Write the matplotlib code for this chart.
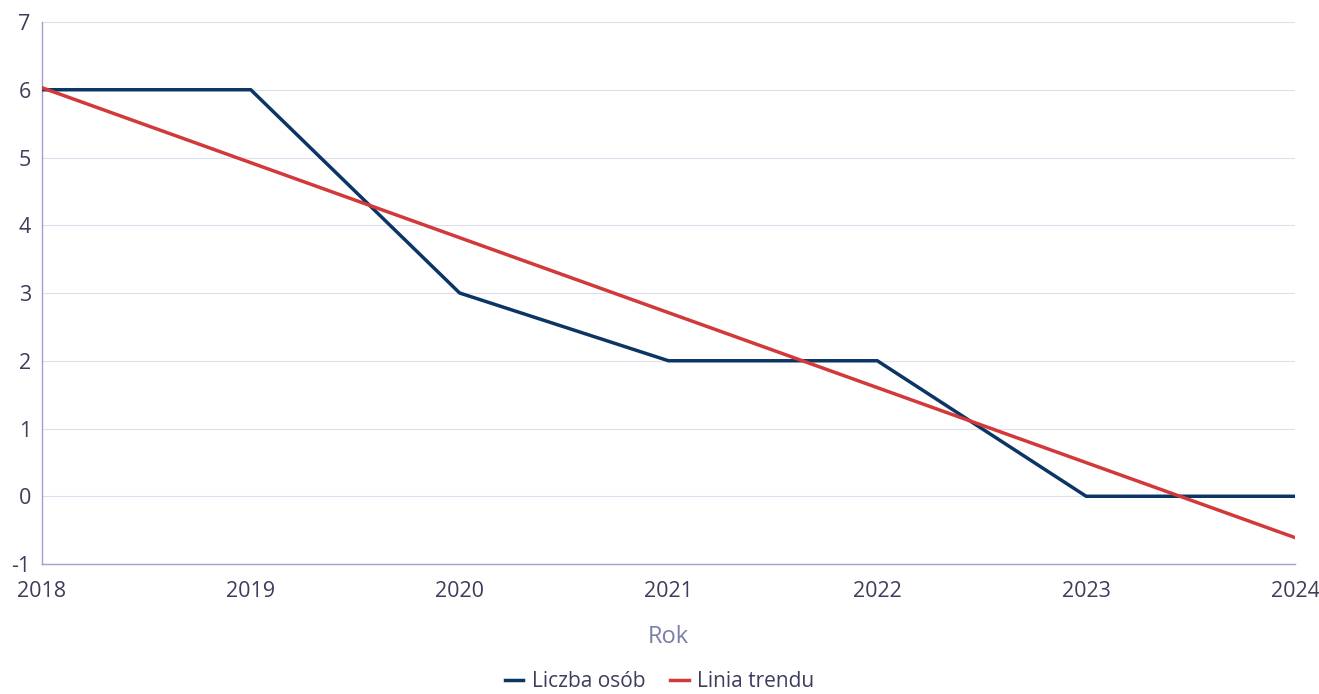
import matplotlib
matplotlib.use("Agg")
import matplotlib.pyplot as plt
from matplotlib.lines import Line2D

plt.rcParams['font.family'] = ['Open Sans', 'DejaVu Sans']

years = [2018, 2019, 2020, 2021, 2022, 2023, 2024]
liczba_osob = [6, 6, 3, 2, 2, 0, 0]
trend_x = [2018, 2024]
trend_y = [6.03, -0.61]
yticks = [-1, 0, 1, 2, 3, 4, 5, 6, 7]

blue = '#0b3565'
red = '#d1393a'
text_c = '#3d3d5c'
grid_c = '#dedeee'
spine_c = '#a0a0cc'

fig = plt.figure(figsize=(13.19, 6.94), dpi=100)
ax = fig.add_axes([0.0318, 0.1873, 0.9500, 0.7810])

ax.plot(years, liczba_osob, color=blue, lw=2.5, solid_joinstyle='miter', zorder=3)
ax.plot(trend_x, trend_y, color=red, lw=2.5, zorder=4)

ax.set_xlim(2018, 2024)
ax.set_ylim(-1, 7)
ax.set_xticks(years)
ax.set_xticklabels([str(y) for y in years])
ax.set_yticks(yticks)
ax.set_yticklabels([str(v) for v in yticks])
ax.grid(axis='y', color=grid_c, lw=0.8)
ax.set_axisbelow(True)
for s in ['top', 'right']:
    ax.spines[s].set_visible(False)
for s in ['left', 'bottom']:
    ax.spines[s].set_color(spine_c)
    ax.spines[s].set_linewidth(1.0)
ax.tick_params(axis='both', length=0, labelsize=15.5, colors=text_c)
ax.tick_params(axis='x', pad=12)
ax.tick_params(axis='y', pad=8)
ax.set_xlabel('Rok', fontsize=17, color='#7a7ea8', labelpad=17)

handles = [Line2D([], [], color=blue, lw=2.5), Line2D([], [], color=red, lw=2.5)]
fig.legend(handles, ['Liczba osób', 'Linia trendu'], loc='center', bbox_to_anchor=(0.5, 0.018),
           ncol=2, frameon=False, fontsize=15, handlelength=0.9, handletextpad=0.4,
           columnspacing=1.2, labelcolor=text_c)

fig.savefig('out.png', dpi=100)
